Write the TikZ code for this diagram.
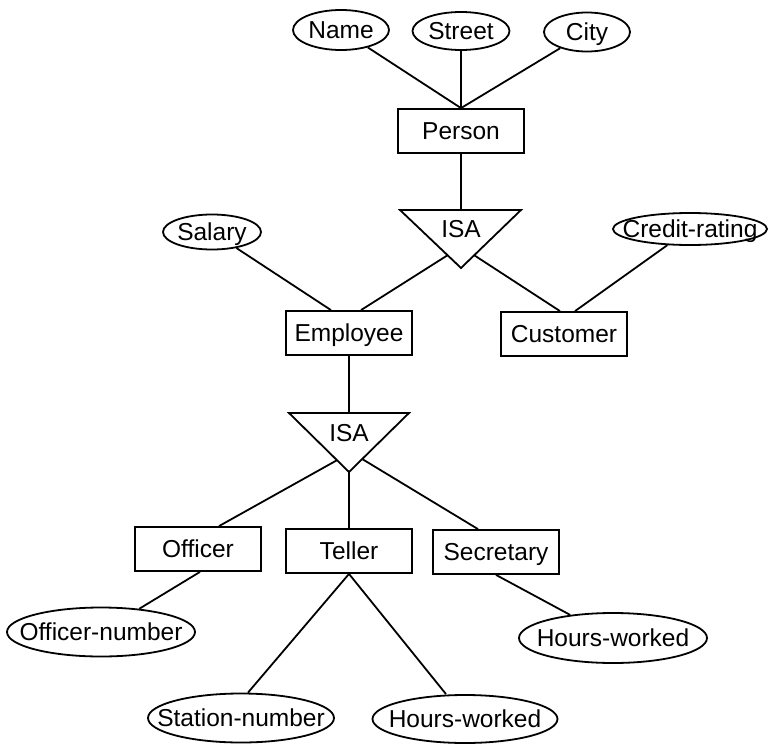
\documentclass[tikz,border=0pt]{standalone}
\usepackage{fontspec}
\setmainfont{Liberation Sans}
\usetikzlibrary{shapes.geometric,calc}
% attribute labels take no room of their own, so each ellipse keeps the size it is given
\newcommand\atxt[1]{\makebox[0pt]{#1}}
\begin{document}
\begin{tikzpicture}[x=1pt,y=-1pt,
  every node/.style={font=\fontsize{24.5}{28}\selectfont, text height=17.5pt, text depth=0pt},
  ent/.style={draw, line width=1.8pt, minimum width=126pt, minimum height=44pt, inner sep=0pt},
  attr/.style={draw, ellipse, line width=1.8pt, inner sep=0pt},
  link/.style={line width=1.8pt},
  isa/.style={draw, line width=1.8pt, line join=miter}]
\useasboundingbox (0,0) rectangle (769,744);

% Person and its attributes
\node[attr, minimum width=96pt, minimum height=40pt] (name) at (341,30) {\atxt{Name}};
\node[attr, minimum width=97pt, minimum height=38pt] (street) at (461,31) {\atxt{Street}};
\node[attr, minimum width=86pt, minimum height=39pt] (city) at (587,32) {\atxt{City}};
\node[ent] (person) at (461,131) {Person};

% first ISA triangle
\coordinate (isaA-tl) at (400,210);
\coordinate (isaA-tr) at (521,210);
\coordinate (isaA-b) at (461,268);
\coordinate (isaA-t) at (461,210);
\draw[isa] (isaA-tl) -- (isaA-tr) -- (isaA-b) -- cycle;
\node (isaA) at (461,229) {ISA};

% Employee, Customer and their attributes
\node[attr, minimum width=98pt, minimum height=35pt] (salary) at (212,232) {\atxt{Salary}};
\node[attr, minimum width=154pt, minimum height=32pt] (credit) at (690,229) {\atxt{Credit-rating}};
\node[ent] (emp) at (349,333) {Employee};
\node[ent] (cust) at (564,334) {Customer};

% second ISA triangle
\coordinate (isaB-tl) at (289,413);
\coordinate (isaB-tr) at (409,413);
\coordinate (isaB-b) at (349,472);
\coordinate (isaB-t) at (349,413);
\draw[isa] (isaB-tl) -- (isaB-tr) -- (isaB-b) -- cycle;
\node (isaB) at (349,433) {ISA};

% kinds of employee
\node[ent] (off) at (198,549) {Officer};
\node[ent] (tel) at (349,551) {Teller};
\node[ent] (sec) at (496,552) {Secretary};

% their attributes
\node[attr, minimum width=188pt, minimum height=49pt] (offnum) at (101,632) {\atxt{Officer-number}};
\node[attr, minimum width=188pt, minimum height=50pt] (hrsA) at (613,638) {\atxt{Hours-worked}};
\node[attr, minimum width=186pt, minimum height=49pt] (stat) at (241,718) {\atxt{Station-number}};
\node[attr, minimum width=185pt, minimum height=48pt] (hrsB) at (465,719) {\atxt{Hours-worked}};

% connectors
\draw[link] (name) -- (person.north);
\draw[link] (street) -- (person.north);
\draw[link] (city) -- (person.north);
\draw[link] (person.south) -- (isaA-t);
\draw[link] ($(isaA-b)!0.22!(isaA-tl)$) -- ([xshift=12pt]emp.north);
\draw[link] ($(isaA-b)!0.22!(isaA-tr)$) -- ([xshift=-4pt]cust.north);
\draw[link] (salary) -- ([xshift=-18pt]emp.north);
\draw[link] (credit) -- ([xshift=11pt]cust.north);
\draw[link] (emp.south) -- (isaB-t);
\draw[link] ($(isaB-b)!0.2!(isaB-tl)$) -- ([xshift=21pt]off.north);
\draw[link] (isaB-b) -- (tel.north);
\draw[link] ($(isaB-b)!0.22!(isaB-tr)$) -- ([xshift=-18pt]sec.north);
\draw[link] ([xshift=2pt]off.south) -- (offnum);
\draw[link] (tel.south) -- ([xshift=7pt]stat.north);
\draw[link] (tel.south) -- ([xshift=-19pt]hrsB.north);
\draw[link] (sec.south) -- (hrsA);
\end{tikzpicture}
\end{document}
